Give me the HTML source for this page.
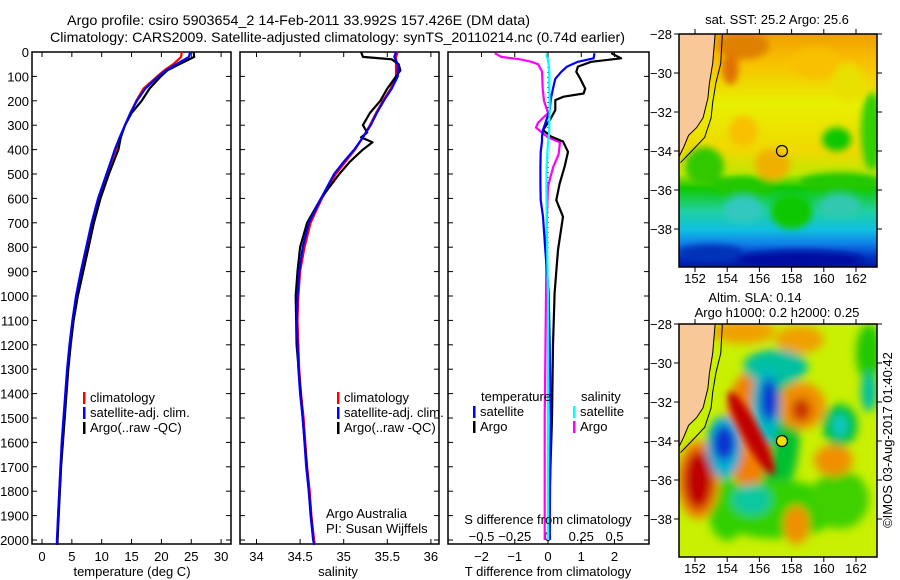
<!DOCTYPE html>
<html><head><meta charset="utf-8"><style>
html,body{margin:0;padding:0;background:#fff;}
svg{display:block;font-family:"Liberation Sans",sans-serif;}
text{font-size:13px;fill:#000;}
</style></head><body>
<svg id="fig" width="900" height="580" viewBox="0 0 900 580" xmlns="http://www.w3.org/2000/svg">
<defs>
<filter id="blur1" x="-20%" y="-20%" width="140%" height="140%"><feGaussianBlur stdDeviation="3.5"/></filter>
<filter id="blur2" x="-20%" y="-20%" width="140%" height="140%"><feGaussianBlur stdDeviation="4.5"/></filter>
<clipPath id="clipM1"><rect x="679" y="34" width="198" height="233"/></clipPath>
<clipPath id="clipM2"><rect x="679" y="324" width="198" height="233"/></clipPath>
<linearGradient id="sstGrad" x1="0" y1="0" x2="0" y2="1">
<stop offset="0" stop-color="#f0a000"/><stop offset="0.12" stop-color="#f8c000"/>
<stop offset="0.3" stop-color="#e8f000"/><stop offset="0.5" stop-color="#f0d800"/>
<stop offset="0.6" stop-color="#c0e800"/><stop offset="0.66" stop-color="#10c800"/>
<stop offset="0.76" stop-color="#20d0a0"/><stop offset="0.84" stop-color="#10c0e0"/>
<stop offset="0.9" stop-color="#1080e8"/><stop offset="0.96" stop-color="#0030c0"/>
<stop offset="1" stop-color="#0018a0"/></linearGradient>
</defs>
<text x="67" y="25" textLength="463" lengthAdjust="spacingAndGlyphs" style="font-size:14px">Argo profile: csiro 5903654_2 14-Feb-2011 33.992S 157.426E (DM data)</text>
<text x="50" y="42" textLength="575" lengthAdjust="spacingAndGlyphs" style="font-size:14px">Climatology: CARS2009. Satellite-adjusted climatology: synTS_20110214.nc (0.74d earlier)</text>
<g id="g1"></g>
<g id="g2"></g>
<g id="g3"></g>
<g id="m1"></g>
<g id="m2"></g>
<text transform="translate(892,440) rotate(-90)" text-anchor="middle">©IMOS 03-Aug-2017 01:40:42</text>
</svg>
<script>
// ---- data ----
const depthTicks = [0,100,200,300,400,500,600,700,800,900,1000,1100,1200,1300,1400,1500,1600,1700,1800,1900,2000];
const profDepth = [0,20,50,75,100,150,200,250,300,350,400,450,500,600,700,800,900,1000,1100,1200,1300,1400,1500,1600,1700,1800,1900,2000,2020];
const tempClim = [23.4,23.3,22.0,20.5,19.3,17.0,15.8,14.8,13.9,13.1,12.4,11.6,10.9,9.5,8.4,7.5,6.6,5.8,5.2,4.7,4.3,4.0,3.7,3.4,3.1,2.9,2.7,2.6,2.5];
const tempSat = [24.8,24.6,22.5,20.8,19.5,17.3,15.9,14.8,13.9,13.0,12.2,11.5,10.8,9.4,8.3,7.4,6.5,5.7,5.1,4.6,4.2,3.9,3.6,3.3,3.1,2.9,2.7,2.5,2.5];
const tempArgo = [25.4,25.5,23.0,21.0,19.9,18.0,16.7,15.0,13.9,13.2,12.8,12.0,11.2,9.8,8.7,7.8,6.9,6.0,5.3,4.8,4.4,4.1,3.8,3.5,3.2,3.0,2.8,2.6,2.6];
const salClim = [35.62,35.6,35.6,35.6,35.6,35.54,35.45,35.37,35.3,35.22,35.13,35.02,34.91,34.75,34.62,34.55,34.5,34.48,34.47,34.48,34.49,34.51,34.54,34.56,34.58,34.61,34.63,34.66,34.67];
const salSat = [35.6,35.58,35.62,35.62,35.62,35.55,35.46,35.38,35.31,35.22,35.12,35.0,34.89,34.74,34.6,34.53,34.49,34.47,34.46,34.47,34.48,34.5,34.53,34.55,34.57,34.6,34.62,34.65,34.66];
const argoSalDepth = [0,20,30,50,75,100,150,200,250,300,330,350,370,400,450,500,600,700,800,900,1000,1200,1500,1800,2000];
const salArgo = [35.2,35.22,35.55,35.63,35.65,35.6,35.5,35.42,35.3,35.22,35.27,35.2,35.33,35.22,35.07,34.95,34.74,34.58,34.5,34.47,34.45,34.46,34.53,34.6,34.65];
const diffDepth = [5,26,40,60,81,110,150,170,183,197,238,280,320,347,367,409,470,540,607,675,811,988,1200,1500,1800,2000];
const dTArgo = [1.9,2.2,1.3,0.9,0.85,0.97,1.12,1.07,0.47,0.22,0.22,0.05,-0.15,0.1,0.45,0.6,0.5,0.35,0.25,0.45,0.3,0.2,0.15,0.12,0.05,0.05];
const dTSat = [1.4,1.37,0.9,0.57,0.4,0.22,0.15,0.12,0.1,0.08,0.05,-0.05,-0.15,-0.18,-0.18,-0.22,-0.23,-0.23,-0.22,-0.15,-0.08,0.02,0.05,0.08,0.06,0.05];
const sDiffDepth = [5,20,30,40,50,80,150,200,250,290,310,330,350,370,420,470,550,700,1000,1500,2000];
const dSArgo = [-0.4,-0.35,-0.21,-0.125,-0.075,-0.045,-0.04,-0.03,0.0,-0.075,-0.09,-0.045,0.0,0.09,0.08,0.04,0.0,-0.01,-0.015,-0.025,-0.025];
const dSSat = [-0.01,-0.01,0.0,0.0,0.005,0.01,0.01,0.012,0.012,0.01,0.01,0.008,0.005,0.0,-0.005,-0.01,-0.012,-0.01,0.0,0.0,0.0];
const tempTicks = [0,5,10,15,20,25,30];
const salTicks = [34,34.5,35,35.5,36];
const dTTicks = [-2,-1,0,1,2];
const dSTicks = [-0.5,-0.25,0,0.25,0.5];
const dSLabels = ["-0.5","-0.25","0","0.25","0.5"];
const latTicks = [-28,-30,-32,-34,-36,-38];
const lonTicks = [152,154,156,158,160,162];

const NS="http://www.w3.org/2000/svg";
function mk(tag,attrs,parent){const e=document.createElementNS(NS,tag);for(const k in attrs)e.setAttribute(k,attrs[k]);parent.appendChild(e);return e;}
function txt(s,x,y,anchor,parent){const t=mk('text',{x:x,y:y,'text-anchor':anchor||'start'},parent);t.textContent=s;return t;}

const TOP=52, BOT=544;
function yD(d){return TOP+d*0.244;}
const xT = v=>42+v*5.97;
const xS = v=>256.5+(v-34)*87.2;
const xdT = v=>548+v*33.25;
const xdS = v=>548+v*4*33.25;

function frame(g,x0,x1,name){
  const r=mk('rect',{x:x0,y:TOP,width:x1-x0,height:BOT-TOP,fill:'none',stroke:'#000','stroke-width':1.5},g);
  
  
}
function yTicks(g,x0,x1,labels){
  depthTicks.forEach(d=>{
    const y=yD(d);
    mk('line',{x1:x0,y1:y,x2:x0+5,y2:y,stroke:'#000'},g);
    mk('line',{x1:x1-5,y1:y,x2:x1,y2:y,stroke:'#000'},g);
    if(labels){const t=txt(String(d),x0-3,y+5,'end',g);
      
      }
  });
}
function xTicks(g,ticks,fx,labels,ly){
  ticks.forEach((v,i)=>{
    const x=fx(v);
    mk('line',{x1:x,y1:BOT,x2:x,y2:BOT-5,stroke:'#000'},g);
    mk('line',{x1:x,y1:TOP,x2:x,y2:TOP+5,stroke:'#000'},g);
    const t=txt(labels?labels[i]:String(v),x,ly,'middle',g);
    
    
  });
}
function line(g,ds,vs,fx,color,name,w){
  const pts=ds.map((d,i)=>fx(vs[i]).toFixed(1)+','+yD(d).toFixed(1)).join(' ');
  const p=mk('polyline',{points:pts,fill:'none',stroke:color,'stroke-width':w||2.2,'stroke-linejoin':'round'},g);
  
  
}
function legend(g,x,y,items){
  items.forEach((it,i)=>{
    const yy=y+i*15;
    mk('rect',{x:x,y:yy-10,width:2.5,height:12,fill:it[1]},g);
    const t=txt(it[0],x+7,yy,'start',g);
    
    
  });
}
// Panel 1
const g1=document.getElementById('g1');
frame(g1,32,231,'temperature');yTicks(g1,32,231,true);xTicks(g1,tempTicks,xT,null,561);
line(g1,profDepth,tempClim,xT,'#f00','temp-climatology-line');
line(g1,profDepth,tempArgo,xT,'#000','temp-argo-line');
line(g1,profDepth,tempSat,xT,'#00f','temp-satellite-line');
legend(g1,83,402,[['climatology','#f00'],['satellite-adj. clim.','#00f'],['Argo(..raw -QC)','#000']]);
let t=txt('temperature (deg C)',132,576,'middle',g1);
// Panel 2
const g2=document.getElementById('g2');
frame(g2,240,439,'salinity');yTicks(g2,240,439,false);xTicks(g2,salTicks,xS,null,561);
line(g2,profDepth,salClim,xS,'#f00','sal-climatology-line');
line(g2,argoSalDepth,salArgo,xS,'#000','sal-argo-line');
line(g2,profDepth,salSat,xS,'#00f','sal-satellite-line');
legend(g2,337,402,[['climatology','#f00'],['satellite-adj. clim.','#00f'],['Argo(..raw -QC)','#000']]);
t=txt('Argo Australia',326,518,'start',g2);
t=txt('PI: Susan Wijffels',326,533,'start',g2);
t=txt('salinity',338,576,'middle',g2);
// Panel 3
const g3=document.getElementById('g3');
frame(g3,448,649,'difference');yTicks(g3,448,649,false);
dTTicks.forEach(v=>{const x=xdT(v);mk('line',{x1:x,y1:BOT,x2:x,y2:BOT-5,stroke:'#000'},g3);mk('line',{x1:x,y1:TOP,x2:x,y2:TOP+5,stroke:'#000'},g3);
 const tt=txt(String(v).replace('-','\u2212'),x,561,'middle',g3);});
dSTicks.forEach((v,i)=>{const tt=txt(dSLabels[i].replace('-','\u2212'),xdS(v),541,'middle',g3);});
mk('line',{x1:548,y1:TOP,x2:548,y2:BOT,stroke:'#000','stroke-dasharray':'1,4'},g3);
line(g3,sDiffDepth,dSArgo,xdS,'#f0f','sal-diff-argo-line');
line(g3,diffDepth,dTArgo,xdT,'#000','temp-diff-argo-line');
line(g3,diffDepth,dTSat,xdT,'#00f','temp-diff-satellite-line');
line(g3,sDiffDepth,dSSat,xdS,'#0ff','sal-diff-satellite-line');
t=txt('temperature',481,401,'start',g3);
t=txt('salinity',581,401,'start',g3);
legend(g3,473,416,[['satellite','#00f'],['Argo','#000']]);
legend(g3,573,416,[['satellite','#0ff'],['Argo','#f0f']]);
t=txt('S difference from climatology',548,524,'middle',g3);
t=txt('T difference from climatology',548,576,'middle',g3);

// Maps
const mx=lon=>695+(lon-152)*16.1;
function mapFrame(g,off,title,kind){
  const my=lat=>off+(-28-lat)*19.5;
  const clip='url(#clipM'+kind+')';
  const cg=mk('g',{'clip-path':clip},g);
  if(kind===1){
    mk('rect',{x:679,y:off,width:198,height:233,fill:'url(#sstGrad)'},cg);
    const b=mk('g',{filter:'url(#blur1)'},cg);
    [[155,-28.6,1.6,0.7,'#e08000'],[154.2,-29.8,0.5,0.8,'#e07000'],[156.8,-34.7,1.1,0.8,'#f0b000'],[155,-33,0.9,0.8,'#f8c000'],
     [159.5,-29.5,1.6,0.8,'#f8c000'],[161.5,-30.5,1.0,1.0,'#e8e000'],[160.8,-33.4,0.9,0.6,'#10c800'],[163,-33,0.7,2.0,'#30d000'],
     [152.6,-34.8,1.2,1.0,'#30c800'],[155,-35.8,2,0.5,'#20c800'],[161,-35.6,2.5,0.5,'#20c800'],
     [158,-37.1,1.3,0.9,'#10c800'],[155,-37,1.2,0.7,'#30c8c0'],[161,-36.8,1.3,0.6,'#30c8b0'],[158.5,-39.6,4,0.5,'#0010a0'],[153,-39.2,2,0.4,'#0030b8']]
     .forEach(c=>mk('ellipse',{cx:mx(c[0]),cy:my(c[1]),rx:c[2]*16.1,ry:c[3]*19.5,fill:c[4]},b));
  } else {
    mk('rect',{x:679,y:off,width:198,height:233,fill:'#c8f000'},cg);
    const b=mk('g',{filter:'url(#blur2)'},cg);
    [[156.5,-33.5,2.0,3.8,'#00c030'],[161,-33.2,1.1,1.1,'#00c040'],[157,-37.5,4,1.5,'#30d000'],[161,-37,1.8,1.5,'#40d000'],
     [154,-37.5,1.2,1.6,'#30d000'],[162.8,-29.5,0.8,1.5,'#20c800'],
     [155,-28.4,2,0.6,'#f0a000'],[158.5,-28.8,1.5,0.7,'#f0a000'],[158.6,-32.2,1.5,1.2,'#f09000'],[160.6,-35.0,1.2,0.8,'#f09000'],
     [158.3,-38.3,0.8,1.0,'#f09000'],[152.2,-36,1.3,2.0,'#f08000'],[155.3,-33.5,1.4,3.0,'#f08000'],
     [162.8,-31.5,0.5,1.0,'#00c0a0'],[157,-30.2,2,0.9,'#00c0a0'],[156.4,-32.2,0.9,2.0,'#00b8c0'],[153.8,-34.3,1.1,1.6,'#00b0d0'],[155.5,-37,1.2,0.8,'#10c8a0'],
     [152.2,-36,0.9,1.5,'#c00000'],[158.6,-32.4,0.6,0.6,'#c83000'],[161,-33.2,0.5,0.6,'#10c8c0'],[156.6,-31.9,0.55,1.1,'#1030d0'],[153.8,-34.1,0.7,0.9,'#1030d0']]
     .forEach(c=>mk('ellipse',{cx:mx(c[0]),cy:my(c[1]),rx:c[2]*16.1,ry:c[3]*19.5,fill:c[4]},b));
    mk('ellipse',{cx:mx(155.5),cy:my(-33.6),rx:0.55*16.1,ry:2.4*19.5,fill:'#c00000',transform:'rotate(-28 '+mx(155.5)+' '+my(-33.6)+')',filter:'url(#blur1)'},cg);
  }
  const coast=[[153.25,-28],[153.1,-29.5],[152.9,-30.5],[152.8,-31.3],[152.5,-32.3],[152.1,-32.8],[151.6,-33.2],[151.3,-33.8],[151.0,-34.3]];
  const land=mk('polygon',{points:'679,'+off+' '+coast.map(p=>mx(p[0])+','+my(p[1])).join(' ')+' 679,'+my(-34.4),fill:'#f8c898',stroke:'#000','stroke-width':1},cg);
  
  
  const iso=[[153.7,-28],[153.6,-29.5],[153.3,-30.5],[153.1,-31.5],[153.0,-32.3],[152.6,-33.3],[151.8,-34],[151.1,-34.6]];
  mk('polyline',{points:iso.map(p=>mx(p[0])+','+my(p[1])).join(' '),fill:'none',stroke:'#000','stroke-width':1},cg);
  const c=mk('circle',{cx:mx(157.4),cy:my(-34),r:5.5,fill:kind===2?'#f0e000':'none',stroke:'#000','stroke-width':1.2},g);
  
  
  const fr=mk('rect',{x:679,y:off,width:198,height:233,fill:'none',stroke:'#000','stroke-width':1.5},g);
  
  
  latTicks.forEach(v=>{const y=my(v);mk('line',{x1:674,y1:y,x2:679,y2:y,stroke:'#000'},g);mk('line',{x1:877,y1:y,x2:882,y2:y,stroke:'#000'},g);
    const tt=txt(String(v).replace('-','\u2212'),672,y+5,'end',g);});
  lonTicks.forEach(v=>{const x=mx(v);mk('line',{x1:x,y1:off-5,x2:x,y2:off,stroke:'#000'},g);mk('line',{x1:x,y1:off+233,x2:x,y2:off+238,stroke:'#000'},g);
    const tt=txt(String(v),x,off+249,'middle',g);});
  title.forEach((s,i)=>{const tt=txt(s[0],s[1],s[2],'middle',g);});
}
mapFrame(document.getElementById('m1'),34,[['sat. SST: 25.2 Argo: 25.6',777,24]],1);
mapFrame(document.getElementById('m2'),324,[['Altim. SLA: 0.14',755,302],['Argo h1000: 0.2 h2000: 0.25',777,317]],2);
</script>
</body></html>
